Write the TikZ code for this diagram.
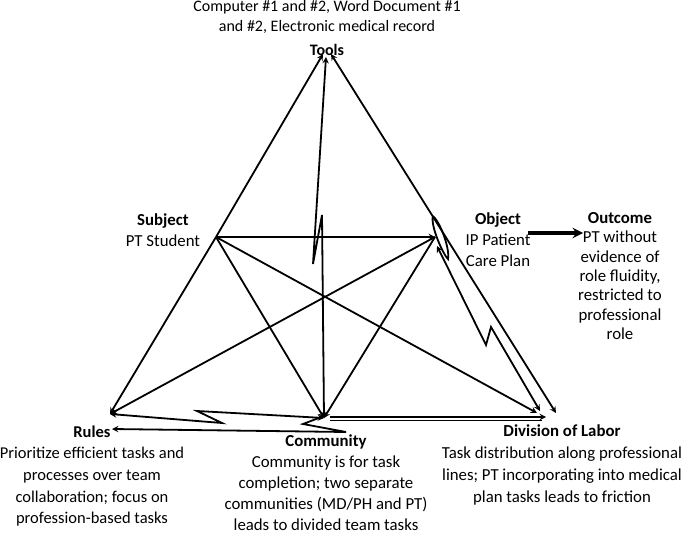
\documentclass[tikz,border=0pt]{standalone}
\usepackage{fontspec}
\setmainfont{Carlito}
\usepackage{tikz}
\usetikzlibrary{arrows}

\tikzset{
  lbl/.style={align=center, inner sep=0pt, font=\fontsize{16.8}{21}\selectfont},
  edg/.style={line width=1.8pt, >=stealth},
}

\begin{document}
\begin{tikzpicture}[x=1pt,y=-1pt]
      \useasboundingbox (0,0) rectangle (685,534);
      % corners of the triangle
      \coordinate (tools) at (326,57);
      \coordinate (subj) at (216,237);
      \coordinate (obj) at (435,237);
      \coordinate (rules) at (110,414);
      \coordinate (comm) at (324,418);
      \coordinate (dol) at (556,413);
      % labels
      \node[lbl, font=\fontsize{16}{20}\selectfont] (toolstxt) at (327,17) {Computer \#1 and \#2, Word Document \#1\\and \#2, Electronic medical record};
      \node[lbl, font=\fontsize{16}{20}\selectfont] (toolslbl) at (327,50) {\textbf{Tools}};
      \node[lbl] (subjlbl) at (163,230) {\textbf{Subject}\\PT Student};
      \node[lbl] (objlbl) at (498,240) {\textbf{Object}\\IP Patient\\Care Plan};
      \node[lbl, font=\fontsize{16.8}{19.4}\selectfont] (outlbl) at (620,276) {\textbf{Outcome}\\PT without\\evidence of\\role fluidity,\\restricted to\\professional\\role};
      \node[lbl, font=\fontsize{16.5}{21.7}\selectfont] (ruleslbl) at (92,476) {\textbf{Rules}\\Prioritize efficient tasks and\\processes over team\\collaboration; focus on\\profession-based tasks};
      \node[lbl] (commlbl) at (326,483) {\textbf{Community}\\Community is for task\\completion; two separate\\communities (MD/PH and PT)\\leads to divided team tasks};
      \node[lbl, font=\fontsize{16.8}{22}\selectfont] (dollbl) at (562,465) {\textbf{Division of Labor}\\Task distribution along professional\\lines; PT incorporating into medical\\plan tasks leads to friction};
      % outer triangle
      \draw[edg,->] (subj) -- ([xshift=-3pt,yshift=3pt]tools);
      \draw[edg,->] (subj) -- (rules);
      \draw[edg,<->] ([xshift=5pt,yshift=3pt]tools) -- (dol);
      % inner lines
      \draw[edg,->] (subj) -- (obj);
      \draw[edg,->] (subj) -- (comm);
      \draw[edg,->] (obj) -- (comm);
      \draw[edg,->] (subj) -- ([xshift=-19pt]dol);
      \draw[edg,->] (obj) -- (rules);
      \draw[edg,<->] (tools) -- (313,264) -- (322,215) -- (comm);
      % object and division of labor
      \draw[edg] (433,216) .. controls (440,222) and (450,248) .. (448,259) .. controls (444,256) and (430,226) .. (433,216);
      \draw[edg,<->] (437,246) -- (486,345) -- (491,327) -- ([xshift=-16pt,yshift=2pt]dol);
      % rules and community
      \draw[edg,<->] (rules) -- (222,423) -- (197,411) -- (comm);
      \draw[edg,->] ([yshift=2pt]comm) -- (303,424) -- (346,432) -- (112,429);
      \draw[edg,->] (330,417) -- (546,417);
      \draw[edg] (330,420.5) -- (542,420.5);
      % outcome
      \draw[line width=3.5pt,->,>=stealth] (528,233) -- (583,233);
\end{tikzpicture}
\end{document}
